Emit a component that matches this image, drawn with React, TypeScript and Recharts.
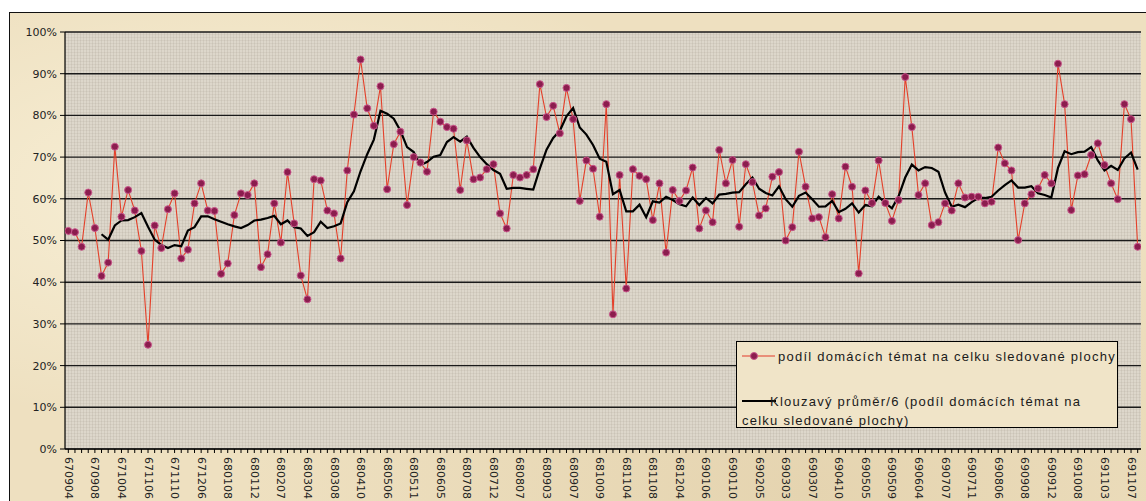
import React from 'react';
import { ComposedChart, Line, XAxis, YAxis, CartesianGrid, Legend } from 'recharts';

// Tick labels (every 4th issue date is labelled)
const tickLabels = [
  '670904', '670908', '671004', '671106', '671110', '671206', '680108', '680112', '680207', '680304',
  '680308', '680410', '680506', '680511', '680605', '680708', '680712', '680807', '680903', '680907',
  '681009', '681104', '681108', '681204', '690106', '690110', '690205', '690303', '690307', '690410',
  '690505', '690509', '690604', '690707', '690711', '690806', '690908', '690912', '691008', '691103',
  '691107',
];

// podíl domácích témat na celku sledované plochy (%)
const shareValues = [
  52.3, 52.0, 48.5, 61.5, 53.0, 41.5, 44.7, 72.5, 55.7, 62.1,
  57.2, 47.5, 25.0, 53.6, 48.2, 57.5, 61.3, 45.7, 47.8, 58.9,
  63.7, 57.2, 57.1, 42.0, 44.5, 56.1, 61.3, 60.9, 63.7, 43.6,
  46.7, 58.9, 49.5, 66.4, 54.1, 41.6, 35.9, 64.7, 64.4, 57.2,
  56.5, 45.7, 66.8, 80.2, 93.4, 81.7, 77.5, 87.0, 62.3, 73.1,
  76.1, 58.5, 70.0, 68.7, 66.5, 80.9, 78.5, 77.2, 76.8, 62.1,
  74.0, 64.7, 65.1, 67.1, 68.3, 56.5, 52.9, 65.7, 65.1, 65.7,
  67.1, 87.5, 79.6, 82.3, 75.7, 86.6, 79.1, 59.5, 69.2, 67.2,
  55.7, 82.7, 32.3, 65.7, 38.5, 67.1, 65.5, 64.7, 54.9, 63.7,
  47.1, 62.1, 59.5, 62.0, 67.5, 52.9, 57.2, 54.4, 71.7, 63.7,
  69.3, 53.3, 68.3, 64.0, 56.0, 57.7, 65.3, 66.4, 50.0, 53.2,
  71.3, 62.9, 55.3, 55.6, 50.8, 61.1, 55.3, 67.7, 62.9, 42.1,
  62.0, 59.0, 69.2, 59.0, 54.7, 59.7, 89.2, 77.2, 60.9, 63.7,
  53.7, 54.4, 58.9, 57.2, 63.7, 60.3, 60.5, 60.5, 58.9, 59.3,
  72.3, 68.5, 66.8, 50.1, 58.9, 61.1, 62.5, 65.7, 63.7, 92.4,
  82.7, 57.3, 65.6, 65.9, 70.5, 73.3, 68.1, 63.7, 59.9, 82.7,
  79.1, 48.5,
];

// Klouzavý průměr/6
const movingAvgValues = [
  null, null, null, null, null, 51.5, 50.2, 53.6, 54.8, 54.9,
  55.6, 56.6, 53.3, 50.2, 48.9, 48.2, 48.9, 48.6, 52.4, 53.2,
  55.8, 55.8, 55.1, 54.5, 53.9, 53.4, 53.0, 53.7, 54.8, 55.0,
  55.4, 55.9, 53.9, 54.8, 53.2, 52.9, 51.1, 52.0, 54.5, 53.0,
  53.4, 54.1, 59.2, 61.8, 66.6, 70.7, 74.2, 81.1, 80.4, 79.2,
  76.3, 72.4, 71.2, 68.1, 68.8, 70.1, 70.5, 73.6, 74.8, 73.7,
  74.9, 72.2, 70.0, 68.3, 66.9, 66.0, 62.4, 62.6, 62.6, 62.4,
  62.2, 67.3, 71.8, 74.6, 76.3, 79.8, 81.8, 77.1, 75.4, 72.9,
  69.6, 68.9, 61.1, 62.1, 57.0, 57.0, 58.6, 55.6, 59.4, 59.1,
  60.5, 59.7, 58.7, 58.2, 60.3, 58.5, 60.2, 58.9, 61.0, 61.2,
  61.5, 61.6, 63.5, 65.1, 62.4, 61.4, 60.8, 63.0, 59.9, 58.1,
  60.7, 61.5, 59.9, 58.1, 58.2, 59.5, 56.8, 57.6, 58.9, 56.7,
  58.5, 58.2, 60.5, 59.0, 57.7, 60.6, 65.1, 68.2, 66.8, 67.6,
  67.4, 66.5, 61.5, 58.1, 58.6, 58.0, 59.2, 60.2, 60.2, 60.5,
  62.0, 63.3, 64.4, 62.7, 62.7, 63.0, 61.3, 60.9, 60.3, 67.4,
  71.4, 70.7, 71.2, 71.3, 72.4, 69.2, 66.8, 67.9, 66.9, 69.7,
  71.1, 67.0,
];

const yTicks = [0, 10, 20, 30, 40, 50, 60, 70, 80, 90, 100];

const SERIES_NAME = 'podíl domácích témat na celku sledované plochy';
const MA_NAME = 'Klouzavý průměr/6 (podíl domácích témat na celku sledované plochy)';

const LABEL_STEP = 4;

const rows = shareValues.map((v, i) => ({
  i,
  share: v,
  ma: movingAvgValues[i],
  label: i % LABEL_STEP === 0 ? tickLabels[i / LABEL_STEP] : '',
}));
const xTicks = rows.map((r) => r.i);

const AXIS_FONT = '"DejaVu Sans", Verdana, sans-serif';
const LEGEND_FONT = '"Liberation Sans", Arial, sans-serif';

const XTick = (props: any) => {
  const { x, y, payload } = props;
  const row = rows[payload.value];
  if (!row || !row.label) return null;
  return (
    <text
      transform={`translate(${x},${y + 2}) rotate(90)`}
      textAnchor="start"
      dominantBaseline="central"
      fontFamily={AXIS_FONT}
      fontSize={11}
      fill="#222"
    >
      {row.label}
    </text>
  );
};

const renderLegend = () => (
  <div
    style={{
      position: 'relative',
      width: 382,
      height: 87,
      boxSizing: 'border-box',
      border: '1px solid #000',
      background: '#f0e4c8',
      fontFamily: LEGEND_FONT,
      fontSize: 13,
      letterSpacing: 1.25,
      color: '#1a1a1a',
    }}
  >
    <svg width={40} height={87} style={{ position: 'absolute', left: 0, top: 0 }}>
      <line x1={5} y1={14} x2={38} y2={14} stroke="#e23b2a" strokeWidth={1.2} />
      <circle cx={17} cy={14} r={3.5} fill="#8b1d4e" stroke="#c8548a" strokeWidth={1} />
      <line x1={5} y1={59} x2={39} y2={59} stroke="#000" strokeWidth={2.2} />
    </svg>
    <div style={{ position: 'absolute', left: 41, top: 14, transform: 'translateY(-50%)', whiteSpace: 'nowrap', lineHeight: '15px' }}>
      {SERIES_NAME}
    </div>
    <div style={{ position: 'absolute', left: 33, top: 59, transform: 'translateY(-50%)', whiteSpace: 'nowrap', lineHeight: '15px' }}>
      Klouzavý průměr/6 (podíl domácích témat na
    </div>
    <div style={{ position: 'absolute', left: 5, top: 78, transform: 'translateY(-50%)', whiteSpace: 'nowrap', lineHeight: '15px' }}>
      celku sledované plochy)
    </div>
  </div>
);

export default function App() {
  return (
    <div
      style={{
        position: 'fixed',
        left: 0,
        top: 0,
        width: 1146,
        height: 501,
        overflow: 'hidden',
        background: '#ffffff',
      }}
    >
      <div
        style={{
          position: 'absolute',
          left: 9,
          top: 12,
          width: 1140,
          height: 600,
          border: '1px solid #111',
          background:
            'radial-gradient(ellipse at 20% 30%, rgba(255,250,230,0.6), rgba(0,0,0,0) 40%), radial-gradient(ellipse at 70% 80%, rgba(220,200,160,0.5), rgba(0,0,0,0) 50%), #eee0c0',
        }}
      />
      <div
        style={{
          position: 'absolute',
          left: 65,
          top: 32,
          width: 1076,
          height: 417,
          backgroundColor: '#ddd7cb',
          backgroundImage:
            'repeating-linear-gradient(90deg, rgba(150,140,125,0.16) 0px, rgba(150,140,125,0.16) 1px, rgba(0,0,0,0) 1px, rgba(0,0,0,0) 3px), repeating-linear-gradient(0deg, rgba(150,140,125,0.12) 0px, rgba(150,140,125,0.12) 1px, rgba(0,0,0,0) 1px, rgba(0,0,0,0) 3px)',
        }}
      />
      <div style={{ position: 'absolute', left: 0, top: 0 }}>
        <ComposedChart
          width={1146}
          height={560}
          data={rows}
          margin={{ top: 32, right: 5, bottom: 41, left: 10 }}
        >
          <CartesianGrid horizontal vertical={false} stroke="#1a1a1a" strokeWidth={1.4} fill="none" />
          <XAxis
            dataKey="i"
            type="number"
            domain={[-0.5, 161.5]}
            ticks={xTicks}
            interval={0}
            tick={<XTick />}
            tickSize={4}
            height={70}
            axisLine={{ stroke: '#000', strokeWidth: 1.2 }}
            tickLine={{ stroke: '#000' }}
            allowDataOverflow
          />
          <YAxis
            domain={[0, 100]}
            ticks={yTicks}
            interval={0}
            tickFormatter={(v: number) => `${v}%`}
            width={55}
            tickSize={5}
            tickMargin={3}
            axisLine={{ stroke: '#000', strokeWidth: 1.2 }}
            tickLine={{ stroke: '#000' }}
            tick={{ fontFamily: AXIS_FONT, fontSize: 11, fill: '#222' }}
          />
          <Legend
            verticalAlign="middle"
            align="center"
            layout="horizontal"
            content={renderLegend}
            wrapperStyle={{ left: 736, top: 341, width: 382, height: 87 }}
          />
          <Line
            name={SERIES_NAME}
            dataKey="share"
            type="linear"
            stroke="#e4402a"
            strokeWidth={1.1}
            dot={{ r: 3.5, fill: '#8b1d4e', stroke: '#c8548a', strokeWidth: 1 }}
            activeDot={false}
            isAnimationActive={false}
          />
          <Line
            name={MA_NAME}
            dataKey="ma"
            type="linear"
            stroke="#000"
            strokeWidth={2.2}
            dot={false}
            activeDot={false}
            isAnimationActive={false}
          />
        </ComposedChart>
      </div>
    </div>
  );
}
